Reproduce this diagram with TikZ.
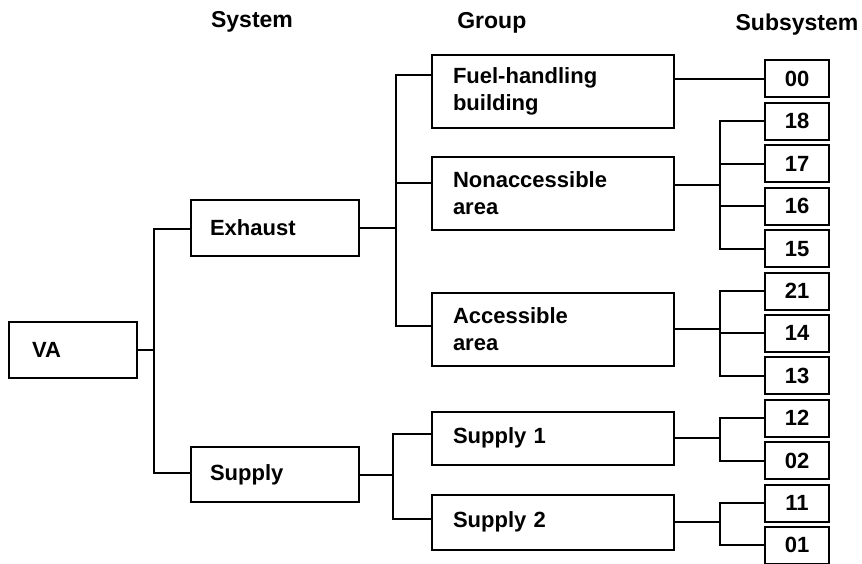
\documentclass[tikz,border=0pt]{standalone}
\usepackage{fontspec}
\setmainfont{Liberation Sans}
\usetikzlibrary{positioning, calc}

\begin{document}
\begin{tikzpicture}[
    x=1pt, y=1pt,
    font=\fontsize{22}{27}\selectfont\bfseries,
    node distance=3.4pt,
    line width=2pt,
    headnode/.style={anchor=base, font=\fontsize{23}{27}\selectfont\bfseries},
    sysnode/.style={draw,rectangle,line width=2pt,minimum width=168pt,minimum height=56pt,text width=130pt,inner xsep=19pt,inner ysep=0pt,align=left},
    grpnode/.style={draw,rectangle,line width=2pt,minimum width=242pt,minimum height=73pt,text width=200pt,inner xsep=21pt,inner ysep=0pt,align=left},
    subnode/.style={draw,rectangle,line width=2pt,minimum width=64pt,minimum height=37pt,inner sep=0pt}
]
\useasboundingbox (0,0) rectangle (862,-564);

% column heads
\node[headnode] (hsys) at (252,-28) {System};
\node[headnode,anchor=base west] (hgrp) at (453,-29) {Group};
\node[headnode] (hsub) at (797,-31) {Subsystem};

% system level
\node[sysnode,minimum width=128pt,text width=82pt,inner xsep=23pt] (va) at (73,-350) {VA};
\node[sysnode] (exh) at (275,-228) {Exhaust};
\node[sysnode,minimum height=55pt] (sup) at (275,-474.5) {Supply};

% group level
\node[grpnode] (fuel) at (553,-91.5) {Fuel-handling\\building};
\node[grpnode] (nonacc) at (553,-193.5) {Nonaccessible\\area};
\node[grpnode] (acc) at (553,-329) {Accessible\\area};
\node[grpnode,minimum height=53pt] (sup1) at (553,-438) {Supply 1};
\node[grpnode,minimum height=55pt] (sup2) at (553,-522) {Supply 2};

% subsystems
\node[subnode] (s00) at (797,-79) {00};
\node[subnode,below=of s00] (s18) {18};
\node[subnode,below=of s18] (s17) {17};
\node[subnode,below=of s17] (s16) {16};
\node[subnode,below=of s16] (s15) {15};
\node[subnode,below=of s15] (s21) {21};
\node[subnode,below=of s21] (s14) {14};
\node[subnode,below=of s14] (s13) {13};
\node[subnode,below=of s13] (s12) {12};
\node[subnode,below=of s12] (s02) {02};
\node[subnode,below=of s02] (s11) {11};
\node[subnode,below=of s11] (s01) {01};

% bus points
\coordinate (sb1) at (154,-229);
\coordinate (sb2) at (154,-473);
\coordinate (gb1) at (396,-75);
\coordinate (gb2) at (396,-183);
\coordinate (gb3) at (396,-326);
\coordinate (pb1) at (393,-434);
\coordinate (pb2) at (393,-519);
\coordinate (rb) at (720,0);

% VA to systems
\draw (va.east) -- (va.east -| sb1);
\draw (sb1 -| exh.west) -- (sb1) -- (sb2) -- (sb2 -| sup.west);

% systems to groups
\draw (exh.east) -- (exh.east -| gb1);
\draw (gb1 -| fuel.west) -- (gb1) -- (gb3) -- (gb3 -| acc.west);
\draw (gb2) -- (gb2 -| nonacc.west);
\draw (sup.east) -- (sup.east -| pb1);
\draw (pb1 -| sup1.west) -- (pb1) -- (pb2) -- (pb2 -| sup2.west);

% groups to subsystems
\draw (s00.west -| fuel.east) -- (s00.west);

\coordinate (nmid) at ($(s18.west -| rb)!0.5!(s15.west -| rb)$);
\draw (nmid -| nonacc.east) -- (nmid);
\draw (s18.west) -- (s18.west -| rb) -- (s15.west -| rb) -- (s15.west);
\draw (s17.west) -- (s17.west -| rb);
\draw (s16.west) -- (s16.west -| rb);

\draw (acc.east) -- (acc.east -| rb);
\draw (s21.west) -- (s21.west -| rb) -- (s13.west -| rb) -- (s13.west);
\draw (s14.west) -- (s14.west -| rb);

\draw (sup1.east) -- (sup1.east -| rb);
\draw (s12.west) -- (s12.west -| rb) -- (s02.west -| rb) -- (s02.west);

\draw (sup2.east) -- (sup2.east -| rb);
\draw (s11.west) -- (s11.west -| rb) -- (s01.west -| rb) -- (s01.west);
\end{tikzpicture}
\end{document}
